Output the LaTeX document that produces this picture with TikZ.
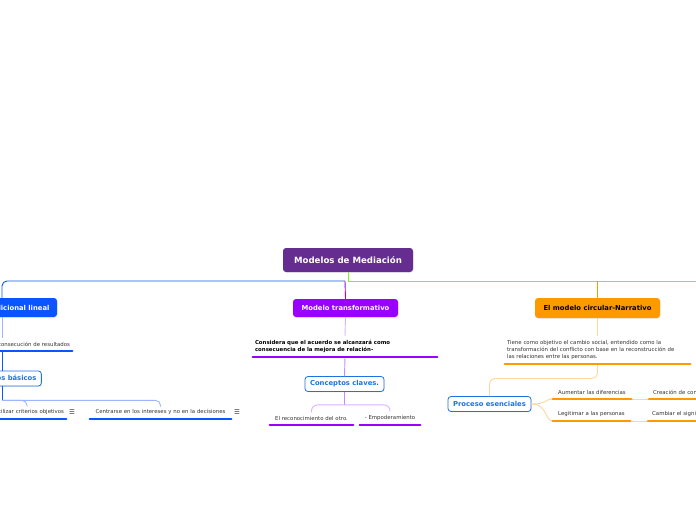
\documentclass[tikz,border=0pt]{standalone}
\usepackage{fontspec}
\setmainfont{DejaVu Sans}
\usetikzlibrary{calc,shadows}
\definecolor{rootc}{HTML}{662D91}
\definecolor{bluec}{HTML}{0A55FF}
\definecolor{bluel}{HTML}{9DB5FF}
\definecolor{bordc}{HTML}{1E73E0}
\definecolor{purc}{HTML}{9900FF}
\definecolor{purl}{HTML}{DDB0FF}
\definecolor{purm}{HTML}{C98AFF}
\definecolor{orac}{HTML}{FF9900}
\definecolor{oral}{HTML}{FFD59A}
\definecolor{grec}{HTML}{88EE22}
\definecolor{txtc}{HTML}{333333}
\tikzset{
  mainnode/.style={rounded corners=3pt, font=\bfseries\fontsize{6.8}{8}\selectfont,
    text=white, inner xsep=6pt, inner ysep=0pt, minimum height=18pt,
    drop shadow={opacity=0.12, shadow xshift=0.6pt, shadow yshift=-0.8pt}},
  subnode/.style={draw=bordc, fill=white, rounded corners=3pt, text=bordc,
    font=\bfseries\fontsize{6.8}{8}\selectfont, line width=0.8pt, inner xsep=5pt,
    inner ysep=0pt, minimum height=15pt,
    drop shadow={opacity=0.15, shadow xshift=0.6pt, shadow yshift=-0.8pt}},
  txt/.style={font=\fontsize{5.4}{7}\selectfont, text=txtc, inner xsep=2pt, inner ysep=4pt},
  btxt/.style={font=\bfseries\fontsize{5.4}{7}\selectfont, text=black, inner xsep=2pt, inner ysep=4pt},
  icon/.style={font=\fontsize{6.5}{7}\selectfont, text=txtc, inner sep=0pt},
  ul/.style={line width=2.6pt, line cap=round},
  conn/.style={line width=0.9pt}
}
\begin{document}
\begin{tikzpicture}[x=1pt,y=-1pt]
\useasboundingbox (0,0) rectangle (696,520);
\clip (0,0) rectangle (696,520);
% nodes
\node[mainnode, fill=rootc, font=\bfseries\fontsize{8.6}{10}\selectfont, minimum width=130pt, minimum height=24pt] (root) at (348,260) {Modelos de Mediación};
\coordinate (g0) at (348,281);
\coordinate (pj) at (345,281);
\coordinate (gR) at (700,281);

\node[mainnode, fill=bluec, minimum width=110pt, minimum height=19pt] (trad) at (2,307.5) {Modelo tradicional lineal};
\node[txt, text width=136pt, align=right, anchor=south] (t1) at (2,351) {consecución de resultados};
\node[subnode, minimum width=76pt] (bas) at (2,378.5) {Principios básicos};
\node[txt, text width=74pt, align=right, anchor=south] (b1) at (27,419) {Utilizar criterios objetivos};
\node[icon] (i1) at (72,412) {☰};
\node[txt, text width=137pt, align=center, anchor=south] (b2) at (160.5,419) {Centrarse en los intereses y no en la decisiones};
\node[icon] (i2) at (237,412) {☰};

\node[mainnode, fill=purc, minimum width=105pt] (trans) at (345.5,308) {Modelo transformativo};
\node[btxt, text width=180pt, align=left, anchor=south] (c1) at (345,357) {Considera que el acuerdo se alcanzará como\\consecuencia de la mejora de relación-};
\node[subnode, minimum width=79pt] (conc) at (344.5,384) {Conceptos claves.};
\node[txt, text width=79pt, align=center, anchor=south] (e1) at (311.5,425) {El reconocimiento del otro.};
\node[txt, text width=56pt, align=center, anchor=south] (e2) at (390,425) {- Empoderamiento};

\node[mainnode, fill=orac, text=black, minimum width=125pt, minimum height=20pt] (circ) at (597.5,308) {El modelo circular-Narrativo};
\node[txt, text width=181pt, align=left, anchor=south] (n1) at (597.5,364) {Tiene como objetivo el cambio social, entendido como la\\transformación del conflicto con base en la reconstrucción de\\las relaciones entre las personas.};
\node[subnode, minimum width=83pt] (proc) at (489.5,404) {Proceso esenciales};
\node[txt, text width=74pt, align=center, anchor=south] (a1) at (592,399) {Aumentar las diferencias};
\node[txt, text width=73pt, align=center, anchor=south] (l1) at (591.5,421) {Legitimar a las personas};
\node[txt, inner xsep=4pt, text width=80pt, align=left, anchor=south west] (cr) at (649,399) {Creación de contextos};
\node[txt, inner xsep=4pt, text width=80pt, align=left, anchor=south west] (cs) at (648,421) {Cambiar el significado};

% connectors
\draw[conn, grec] (root.south) -- (g0) -- (gR);
\draw[conn, bluec, rounded corners=5pt] (pj) -| (trad.north);
\draw[conn, purc] (pj) -- (trans.north);
\draw[conn, orac] (circ.north |- g0) -- (circ.north);

\draw[conn, bluel] (trad.south) -- (t1.north);
\draw[conn, bluec] (t1.south) -- (bas.north);
\coordinate (bj) at ($(bas.south)+(0,14)$);
\draw[conn, bluec] (bas.south) -- (bj);
\draw[conn, bluel, rounded corners=5pt] (bj) -| (b1.north);
\draw[conn, bluel, rounded corners=5pt] (bj) -| (b2.north);

\draw[conn, purl] (trans.south) -- (c1.north);
\draw[conn, purm] (c1.south) -- (conc.north);
\coordinate (cj) at ($(conc.south)+(0,13)$);
\draw[conn, purm] (conc.south) -- (cj);
\draw[conn, purl, rounded corners=6pt] (cj) -| (e1.north);
\draw[conn, purl, rounded corners=6pt] (cj) -| (e2.north);

\draw[conn, oral] (circ.south) -- (n1.north);
\draw[conn, oral, rounded corners=6pt] (n1.south) |- ($(n1.south)!0.45!(proc.north)$) -| (proc.north);
\draw[conn, oral] (proc.east) .. controls +(16,0) and +(-8,0) .. (a1.south west);
\draw[conn, oral] (proc.east) .. controls +(16,0) and +(-8,0) .. (l1.south west);
\draw[conn, oral] (a1.south east) -- (cr.south west);
\draw[conn, oral] (l1.south east) -- (cs.south west);

% underlines
\draw[ul, bluec] (t1.south west) -- (t1.south east);
\draw[ul, bluec] (b1.south west) -- (b1.south east);
\draw[ul, bluec] (b2.south west) -- (b2.south east);
\draw[ul, purc] (c1.south west) -- (c1.south east);
\draw[ul, purc] (e1.south west) -- (e1.south east);
\draw[ul, purc] (e2.south west) -- (e2.south east);
\draw[ul, orac] (n1.south west) -- (n1.south east);
\draw[ul, orac] (a1.south west) -- (a1.south east);
\draw[ul, orac] (l1.south west) -- (l1.south east);
\draw[ul, orac] (cr.south west) -- (cr.south east);
\draw[ul, orac] (cs.south west) -- (cs.south east);
\end{tikzpicture}
\end{document}
